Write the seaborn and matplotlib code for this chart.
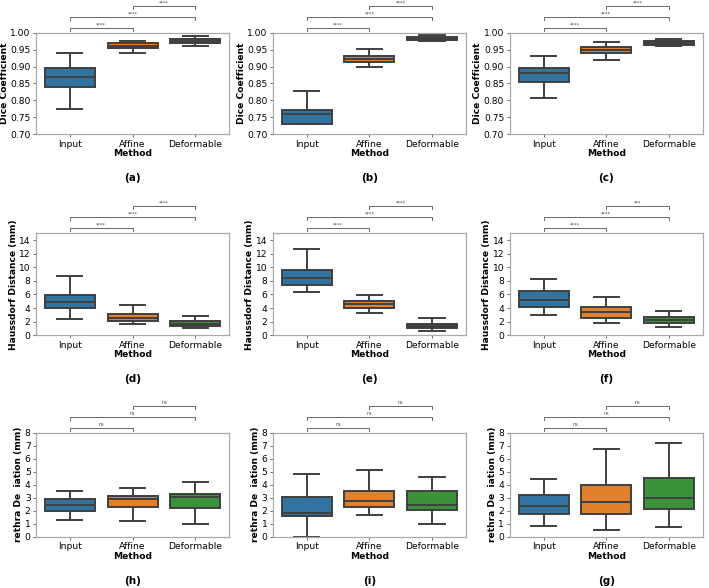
import numpy as np
import pandas as pd
import matplotlib
matplotlib.use("Agg")
import matplotlib.pyplot as plt
import matplotlib.transforms as mtransforms
import seaborn as sns

# ---- data: per box [lower whisker, q1, median, q3, upper whisker] ----
methods = ["Input", "Affine", "Deformable"]

dice_a = [[0.774, 0.841, 0.868, 0.895, 0.941],
          [0.939, 0.954, 0.961, 0.969, 0.975],
          [0.961, 0.971, 0.976, 0.983, 0.990]]
dice_b = [[0.729, 0.730, 0.760, 0.771, 0.828],
          [0.898, 0.915, 0.924, 0.933, 0.951],
          [0.976, 0.979, 0.984, 0.987, 0.993]]
dice_c = [[0.808, 0.855, 0.882, 0.895, 0.933],
          [0.921, 0.941, 0.949, 0.958, 0.973],
          [0.960, 0.965, 0.971, 0.976, 0.983]]

hd_d = [[2.42, 3.96, 4.93, 5.94, 8.70],
        [1.64, 2.13, 2.51, 3.09, 4.40],
        [1.01, 1.40, 1.64, 2.03, 2.80]]
hd_e = [[6.43, 7.34, 8.41, 9.57, 12.75],
        [3.33, 4.01, 4.54, 5.02, 5.89],
        [0.58, 1.01, 1.40, 1.64, 2.46]]
hd_f = [[2.95, 4.20, 5.12, 6.57, 8.26],
        [1.74, 2.51, 3.38, 4.20, 5.60],
        [1.26, 1.79, 2.22, 2.61, 3.62]]

ud_h = [[1.26, 1.96, 2.48, 2.92, 3.54],
        [1.21, 2.32, 2.94, 3.15, 3.79],
        [0.98, 2.19, 3.05, 3.30, 4.23]]
ud_i = [[0.00, 1.63, 1.86, 3.05, 4.83],
        [1.70, 2.30, 2.76, 3.54, 5.16],
        [0.95, 2.06, 2.48, 3.54, 4.62]]
ud_g = [[0.80, 1.75, 2.37, 3.20, 4.44],
        [0.52, 1.75, 2.66, 3.95, 6.76],
        [0.72, 2.17, 2.99, 4.54, 7.25]]

sig_dice = ["****", "****", "****"]
sig_hd_def = ["****", "****", "****"]
sig_hd_f = ["****", "****", "***"]
sig_ud = ["ns", "ns", "ns"]

panels = [
    (dice_a, "Dice Coefficient", "(a)", sig_dice),
    (dice_b, "Dice Coefficient", "(b)", sig_dice),
    (dice_c, "Dice Coefficient", "(c)", sig_dice),
    (hd_d, "Haussdorf Distance (mm)", "(d)", sig_hd_def),
    (hd_e, "Haussdorf Distance (mm)", "(e)", sig_hd_def),
    (hd_f, "Haussdorf Distance (mm)", "(f)", sig_hd_f),
    (ud_h, "rethra De  iation (mm)", "(h)", sig_ud),
    (ud_i, "rethra De  iation (mm)", "(i)", sig_ud),
    (ud_g, "rethra De  iation (mm)", "(g)", sig_ud),
]

row_ylim = [(0.70, 1.00), (0, 15), (0, 8)]
row_yticks = [np.arange(0.70, 1.001, 0.05), np.arange(0, 15, 2), np.arange(0, 9, 1)]
row_fmt = ["{:.2f}", "{:.0f}", "{:.0f}"]

palette = ["#1f77b4", "#ff7f0e", "#2ca02c"]

fig = plt.figure(figsize=(7.09, 5.88), dpi=100)

col_left = [0.051, 0.385, 0.719]
ax_w = 0.272
row_bottom = [0.772, 0.430, 0.087]
row_h = [0.172, 0.173, 0.177]

fs = 6.6
for i, (vals, ylab, tag, sigs) in enumerate(panels):
    r, c = divmod(i, 3)
    ax = fig.add_axes([col_left[c], row_bottom[r], ax_w, row_h[r]])
    df = pd.DataFrame({
        "Method": np.repeat(methods, 5),
        "value": np.concatenate(vals),
    })
    sns.boxplot(data=df, x="Method", y="value", hue="Method", palette=palette,
                order=methods, whis=(0, 100), width=0.8, linewidth=1.4,
                saturation=0.75, linecolor="#3f3f3f", legend=False, ax=ax)
    ax.set_ylim(*row_ylim[r])
    ax.set_yticks(row_yticks[r])
    ax.set_yticklabels([row_fmt[r].format(v) for v in row_yticks[r]], fontsize=fs)
    ax.tick_params(axis="x", labelsize=fs, length=2.5, width=0.6, pad=1.5, color="#555555")
    ax.tick_params(axis="y", length=2.5, width=0.6, pad=1.5, color="#555555")
    ax.set_xlabel("Method", fontsize=fs, fontweight="bold", labelpad=0.5)
    ax.set_ylabel(ylab, fontsize=fs, fontweight="bold", labelpad=1.0)
    for sp in ax.spines.values():
        sp.set_color("#aaaaaa")
        sp.set_linewidth(0.9)

    # significance brackets above the axes
    trans = mtransforms.blended_transform_factory(ax.transData, ax.transAxes)
    pairs = [(0, 1), (0, 2), (1, 2)]
    h_px = row_h[r] * 588
    for k, ((x1, x2), s) in enumerate(zip(pairs, sigs)):
        y = 1 + (5 + 11 * k) / h_px
        tick = 3 / h_px
        ax.plot([x1, x1, x2, x2], [y - tick, y, y, y - tick], transform=trans,
                color="#666666", lw=0.7, clip_on=False)
        ax.text((x1 + x2) / 2, y + 0.5 / h_px, s, transform=trans, ha="center",
                va="bottom", fontsize=3.5, color="#444444", clip_on=False)

    # panel tag below
    ax.text(0.5, -0.43 if r < 2 else -0.42, tag, transform=ax.transAxes,
            ha="center", va="center", fontsize=7.5, fontweight="bold")

fig.savefig("out.png", dpi=100)
